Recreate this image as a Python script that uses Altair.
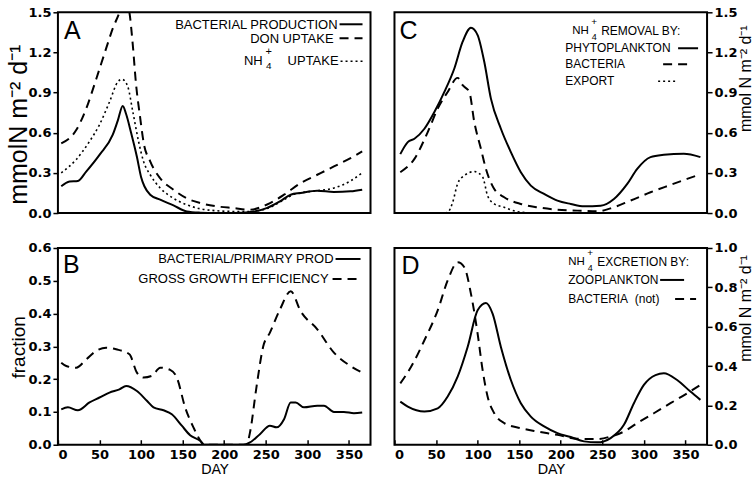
import altair as alt
import pandas as pd

# ---------------- data ----------------
x_ticks = [0, 50, 100, 150, 200, 250, 300, 350]
x_max = 376

# Panel A
a_bact_day = [4, 14, 24, 34, 50, 66, 72, 78, 82, 88, 95, 100, 104, 111, 123, 139, 155, 171, 190, 211, 235, 251, 267, 280, 292, 312, 332, 352, 366]
a_bact_val = [0.20, 0.236, 0.24, 0.31, 0.435, 0.585, 0.69, 0.80, 0.74, 0.60, 0.42, 0.27, 0.20, 0.137, 0.10, 0.057, 0.012, 0.003, 0.0, 0.0, 0.01, 0.037, 0.087, 0.137, 0.15, 0.167, 0.157, 0.162, 0.174]
a_don_day = [4, 22, 34, 46, 58, 66, 74, 80, 86, 90, 94, 99, 103, 111, 123, 139, 155, 171, 191, 211, 231, 251, 272, 292, 312, 332, 352, 366]
a_don_val = [0.52, 0.62, 0.78, 1.0, 1.23, 1.38, 1.5, 1.62, 1.5, 1.26, 0.96, 0.71, 0.53, 0.386, 0.26, 0.174, 0.11, 0.075, 0.05, 0.037, 0.025, 0.062, 0.137, 0.224, 0.286, 0.348, 0.41, 0.46]
a_nh4_day = [4, 22, 38, 50, 62, 72, 77, 84, 90, 97, 103, 111, 123, 139, 155, 171, 191, 211, 231, 251, 272, 284, 312, 332, 352, 366]
a_nh4_val = [0.30, 0.40, 0.535, 0.66, 0.83, 0.98, 1.0, 0.945, 0.76, 0.535, 0.386, 0.286, 0.187, 0.11, 0.062, 0.032, 0.017, 0.012, 0.012, 0.032, 0.10, 0.14, 0.167, 0.187, 0.24, 0.30]

# Panel B
b_ratio_day = [4, 12, 24, 38, 50, 62, 74, 82, 95, 107, 115, 127, 137, 149, 159, 171, 176, 200, 223, 231, 243, 255, 263, 272, 280, 286, 296, 312, 320, 332, 344, 356, 366]
b_ratio_val = [0.108, 0.114, 0.105, 0.129, 0.144, 0.159, 0.169, 0.179, 0.164, 0.134, 0.114, 0.105, 0.093, 0.058, 0.029, 0.012, 0.0, 0.0, 0.0, 0.007, 0.032, 0.058, 0.053, 0.078, 0.129, 0.129, 0.114, 0.119, 0.119, 0.10, 0.10, 0.096, 0.098]
b_gge_day = [4, 10, 22, 34, 46, 58, 70, 86, 95, 103, 113, 123, 135, 143, 153, 163, 173, 176, 200, 227, 231, 239, 247, 255, 267, 280, 292, 312, 332, 352, 366]
b_gge_val = [0.25, 0.24, 0.235, 0.26, 0.286, 0.296, 0.291, 0.276, 0.22, 0.205, 0.21, 0.235, 0.228, 0.205, 0.114, 0.053, 0.007, 0.0, 0.0, 0.0, 0.037, 0.179, 0.30, 0.342, 0.412, 0.468, 0.407, 0.352, 0.281, 0.24, 0.22]

# Panel C
c_phyto_day = [7, 16, 24, 36, 48, 60, 72, 82, 92, 100, 108, 116, 128, 140, 152, 164, 180, 196, 212, 228, 248, 264, 280, 292, 308, 324, 348, 368]
c_phyto_val = [0.44, 0.53, 0.555, 0.63, 0.755, 0.905, 1.08, 1.28, 1.385, 1.33, 1.13, 0.855, 0.63, 0.455, 0.305, 0.205, 0.143, 0.093, 0.068, 0.05, 0.055, 0.105, 0.218, 0.33, 0.418, 0.435, 0.443, 0.418]
c_bact_day = [7, 24, 40, 52, 64, 76, 82, 90, 96, 104, 110, 120, 132, 152, 172, 196, 220, 244, 260, 284, 308, 332, 352, 368]
c_bact_val = [0.305, 0.405, 0.605, 0.78, 0.905, 1.01, 0.955, 0.905, 0.68, 0.48, 0.33, 0.18, 0.118, 0.068, 0.043, 0.025, 0.018, 0.013, 0.035, 0.093, 0.155, 0.21, 0.255, 0.29]
c_export_day = [7, 40, 60, 64, 70, 76, 84, 96, 106, 112, 120, 132, 148, 170, 250, 368]
c_export_val = [0.0, 0.0, 0.0, 0.005, 0.08, 0.22, 0.28, 0.31, 0.27, 0.13, 0.068, 0.043, 0.01, 0.0, 0.0, 0.0]

# Panel D
d_zoo_day = [7, 16, 36, 52, 64, 76, 88, 100, 110, 118, 128, 140, 152, 164, 180, 196, 212, 228, 244, 260, 276, 288, 300, 314, 324, 340, 356, 368]
d_zoo_val = [0.219, 0.194, 0.169, 0.185, 0.245, 0.346, 0.497, 0.683, 0.72, 0.666, 0.497, 0.329, 0.211, 0.143, 0.093, 0.059, 0.039, 0.017, 0.012, 0.034, 0.101, 0.211, 0.304, 0.354, 0.363, 0.329, 0.27, 0.228]
d_bact_day = [7, 20, 36, 52, 64, 76, 84, 92, 100, 106, 112, 120, 132, 152, 172, 196, 220, 244, 260, 276, 292, 312, 332, 352, 370]
d_bact_val = [0.312, 0.396, 0.531, 0.683, 0.835, 0.927, 0.902, 0.767, 0.565, 0.38, 0.245, 0.16, 0.11, 0.084, 0.067, 0.05, 0.03, 0.029, 0.042, 0.067, 0.11, 0.16, 0.211, 0.261, 0.31]

# texts
a_legend = ["BACTERIAL PRODUCTION", "DON UPTAKE", "NH", "+", "4", "UPTAKE"]
b_legend = ["BACTERIAL/PRIMARY PROD", "GROSS GROWTH EFFICIENCY"]
c_legend = ["NH", "+", "4", "REMOVAL BY:", "PHYTOPLANKTON", "BACTERIA", "EXPORT"]
d_legend = ["NH", "+", "4", "EXCRETION BY:", "ZOOPLANKTON", "BACTERIA\u00a0\u00a0(not)"]
panel_letters = ["A", "B", "C", "D"]
a_ytitle = "mmolN m\u207b\u00b2 d\u207b\u00b9"
b_ytitle = "fraction"
cd_ytitle = "mmol N m\u207b\u00b2 d\u207b\u00b9"
x_title = "DAY"

TXT = "Liberation Sans"
NUM = "DejaVu Sans"
DASH = [9, 6]
DOT = [2, 3]

W = 313
H_TOP = 201
H_BOT = 197

xs = alt.Scale(domain=[0, x_max], nice=False, zero=False)


def tick_axis(h):
    return alt.Axis(orient="top", offset=-h, values=x_ticks, labels=False, domain=False,
                    ticks=True, tickSize=5, tickWidth=1.5, tickColor="black", grid=False, title=None)


label_axis = alt.Axis(orient="bottom", values=x_ticks, ticks=False, domain=False, labelPadding=4,
                      grid=False, title=x_title, titleFont=NUM, titleFontSize=14,
                      titleFontWeight="normal", titlePadding=1)


def y_enc(domain, values, orient, title, tsize, tx, ty):
    ax = alt.Axis(orient=orient, values=values, format=".1f", tickSize=5, tickWidth=1.5,
                  labelPadding=2, domain=False, grid=False, title=title, titleFont=TXT,
                  titleFontSize=tsize, titleFontWeight="normal", titleX=tx, titleY=ty,
                  titleAngle=270, titleAlign="center", titleBaseline="middle")
    return alt.Y("val:Q", scale=alt.Scale(domain=domain, nice=False, zero=True), axis=ax)


def series(day, val, dash, width, x_axis, y):
    df = pd.DataFrame({"day": day, "val": val})
    kw = dict(color="black", strokeWidth=width, clip=True, interpolate="monotone")
    if dash:
        kw["strokeDash"] = dash
    return alt.Chart(df).mark_line(**kw).encode(
        x=alt.X("day:Q", scale=xs, axis=x_axis), y=y)


def txt(label, x, y, size, align="left", baseline="middle", font=TXT):
    return alt.Chart(pd.DataFrame({"label": [label]})).mark_text(
        align=align, baseline=baseline, font=font, fontSize=size, color="black"
    ).encode(x=alt.value(x), y=alt.value(y), text="label:N")


def sample(x1, x2, y, dash=None, width=2.0):
    kw = dict(color="black", strokeWidth=width)
    if dash:
        kw["strokeDash"] = dash
    return alt.Chart(pd.DataFrame({"k": [0]})).mark_rule(**kw).encode(
        x=alt.value(x1), x2=alt.value(x2), y=alt.value(y))


def letter(l, x, y):
    return txt(l, x, y, 25, align="left", baseline="alphabetic")


# ---------- Panel A ----------
ya = y_enc([0, 1.5], [0, 0.3, 0.6, 0.9, 1.2, 1.5], "left", a_ytitle, 25, -39, 112)
panel_a = alt.layer(
    series(a_bact_day, a_bact_val, None, 2.0, tick_axis(H_TOP), ya),
    series(a_don_day, a_don_val, DASH, 2.0, None, ya),
    series(a_nh4_day, a_nh4_val, DOT, 1.6, None, ya),
    letter(panel_letters[0], 6, 27),
    txt(a_legend[0], 280, 12.5, 13, align="right"),
    sample(282, 305, 12, None, 2.0),
    txt(a_legend[1], 276, 26.5, 13, align="right"),
    sample(282, 305, 26, DASH, 2.0),
    txt(a_legend[2], 205, 49, 13, align="right"),
    txt(a_legend[3], 211, 40, 11, align="center"),
    txt(a_legend[4], 211, 54, 10, align="center"),
    txt(a_legend[5], 281, 49, 13, align="right"),
    sample(283, 306, 49, DOT, 1.6),
).properties(width=W, height=H_TOP)

# ---------- Panel B ----------
yb = y_enc([0, 0.6], [0, 0.1, 0.2, 0.3, 0.4, 0.5, 0.6], "left", b_ytitle, 19, -39, 99)
panel_b = alt.layer(
    series(b_ratio_day, b_ratio_val, None, 2.0, tick_axis(H_BOT), yb),
    series(b_gge_day, b_gge_val, DASH, 2.0, label_axis, yb),
    letter(panel_letters[1], 5, 25),
    txt(b_legend[0], 276, 11.5, 13, align="right"),
    sample(278, 303, 11, None, 2.0),
    txt(b_legend[1], 271, 31.5, 13, align="right"),
    sample(275, 301, 31, DASH, 2.0),
).properties(width=W, height=H_BOT)

# ---------- Panel C ----------
yc = y_enc([0, 1.5], [0, 0.3, 0.6, 0.9, 1.2, 1.5], "right", cd_ytitle, 16, 38, 66)
panel_c = alt.layer(
    series(c_phyto_day, c_phyto_val, None, 2.0, tick_axis(H_TOP), yc),
    series(c_bact_day, c_bact_val, DASH, 2.0, None, yc),
    series(c_export_day, c_export_val, DOT, 1.6, None, yc),
    letter(panel_letters[2], 5, 27),
    txt(c_legend[0], 178, 19, 11.5),
    txt(c_legend[1], 200, 10, 10, align="center"),
    txt(c_legend[2], 200, 25, 9, align="center"),
    txt(c_legend[3], 207, 19, 12),
    txt(c_legend[4], 171, 36, 12),
    sample(284, 304, 36, None, 2.0),
    txt(c_legend[5], 171, 52, 12),
    sample(269, 294, 52, DASH, 2.0),
    txt(c_legend[6], 171, 69, 12),
    sample(264, 281, 69, DOT, 1.6),
).properties(width=W, height=H_TOP)

# ---------- Panel D ----------
yd = y_enc([0, 1.0], [0, 0.2, 0.4, 0.6, 0.8, 1.0], "right", cd_ytitle, 16, 38, 60)
panel_d = alt.layer(
    series(d_zoo_day, d_zoo_val, None, 2.0, tick_axis(H_BOT), yd),
    series(d_bact_day, d_bact_val, DASH, 2.0, label_axis, yd),
    letter(panel_letters[3], 7, 26),
    txt(d_legend[0], 174, 14, 11.5),
    txt(d_legend[1], 196, 5, 10, align="center"),
    txt(d_legend[2], 196, 20, 9, align="center"),
    txt(d_legend[3], 203, 14, 12),
    txt(d_legend[4], 174, 32, 12),
    sample(266, 290, 32, None, 2.0),
    txt(d_legend[5], 174, 51, 12),
    sample(281, 302, 51, DASH, 2.0),
).properties(width=W, height=H_BOT)

chart = alt.concat(
    panel_a, panel_c, panel_b, panel_d, columns=2,
    spacing={"row": 35, "column": 24}, bounds="flush",
).configure_view(
    stroke="black", strokeWidth=2
).configure_axis(
    labelFont=NUM, labelFontWeight="bold", labelFontSize=13, labelColor="black",
    tickColor="black", titleColor="black"
).properties(
    padding={"left": 5, "top": 5, "right": 0, "bottom": 0}, background="white"
)

chart.save("out.html", embed_options={"renderer": "svg", "actions": False})
